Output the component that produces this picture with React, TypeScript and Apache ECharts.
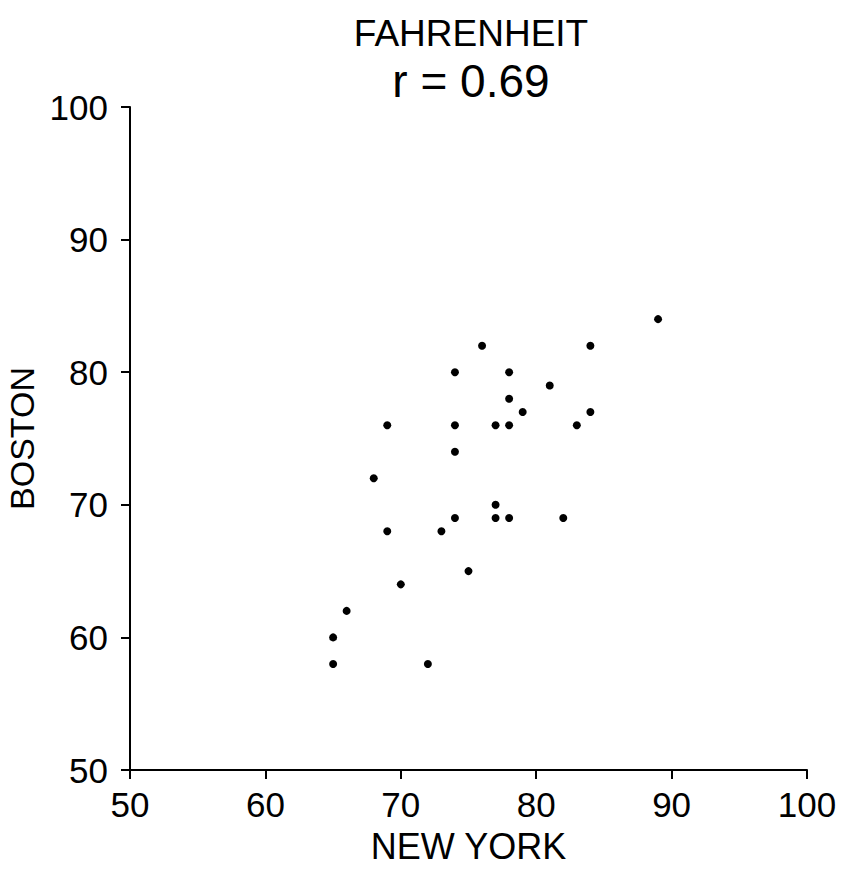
import React, { useEffect, useRef } from "react";
import * as echarts from "echarts";

const newYork = [65, 65, 66, 69, 69, 68, 70, 72, 73, 74, 74, 74, 74, 75, 76, 77, 77, 77, 78, 78, 78, 78, 79, 81, 82, 83, 84, 84, 89];
const boston = [60, 58, 62, 76, 68, 72, 64, 58, 68, 80, 76, 74, 69, 65, 82, 76, 70, 69, 80, 78, 76, 69, 77, 79, 69, 76, 82, 77, 84];
const titleLines = ["FAHRENHEIT", "r = 0.69"];
const xName = "NEW YORK";
const yName = "BOSTON";

const FONT = "'Liberation Sans', Arial, Helvetica, sans-serif";

export default function App() {
  const ref = useRef<HTMLDivElement>(null);
  useEffect(() => {
    if (!ref.current) return;
    const chart = echarts.init(ref.current, null, { renderer: "svg" });
    const points = newYork.map((x, i) => [x, boston[i]]);
    chart.setOption({
      animation: false,
      backgroundColor: "#ffffff",
      textStyle: { fontFamily: FONT, color: "#000" },
      title: [
        {
          text: titleLines[0],
          left: 466,
          top: 10,
          textAlign: "center",
          textStyle: { fontFamily: FONT, fontSize: 37, fontWeight: "normal", color: "#000" },
        },
        {
          text: titleLines[1],
          left: 466,
          top: 53,
          textAlign: "center",
          textStyle: { fontFamily: FONT, fontSize: 46, fontWeight: "normal", color: "#000" },
        },
      ],
      grid: { left: 130, right: 37, top: 107, bottom: 107, containLabel: false, outerBoundsMode: "none" },
      xAxis: {
        type: "value",
        min: 50,
        max: 100,
        interval: 10,
        name: xName,
        nameLocation: "middle",
        nameGap: 58,
        nameTextStyle: { fontFamily: FONT, fontSize: 36, color: "#000" },
        axisLine: { show: true, lineStyle: { color: "#000", width: 2 } },
        axisTick: { show: true, inside: false, length: 9, lineStyle: { color: "#000", width: 2 } },
        axisLabel: { fontFamily: FONT, fontSize: 35, color: "#000", margin: 17 },
        splitLine: { show: false },
      },
      yAxis: {
        type: "value",
        min: 50,
        max: 100,
        interval: 10,
        name: yName,
        nameLocation: "middle",
        nameGap: 88,
        nameRotate: 90,
        nameTextStyle: { fontFamily: FONT, fontSize: 34, color: "#000" },
        axisLine: { show: true, lineStyle: { color: "#000", width: 2 } },
        axisTick: { show: true, inside: false, length: 9, lineStyle: { color: "#000", width: 2 } },
        axisLabel: { fontFamily: FONT, fontSize: 35, color: "#000", margin: 22 },
        splitLine: { show: false },
      },
      series: [
        {
          type: "scatter",
          data: points,
          symbol: "circle",
          symbolSize: 8,
          itemStyle: { color: "#000", opacity: 1 },
        },
      ],
    });
    return () => chart.dispose();
  }, []);
  return (
    <div
      ref={ref}
      style={{ position: "absolute", left: 0, top: 0, width: 844, height: 877, background: "#fff" }}
    />
  );
}
